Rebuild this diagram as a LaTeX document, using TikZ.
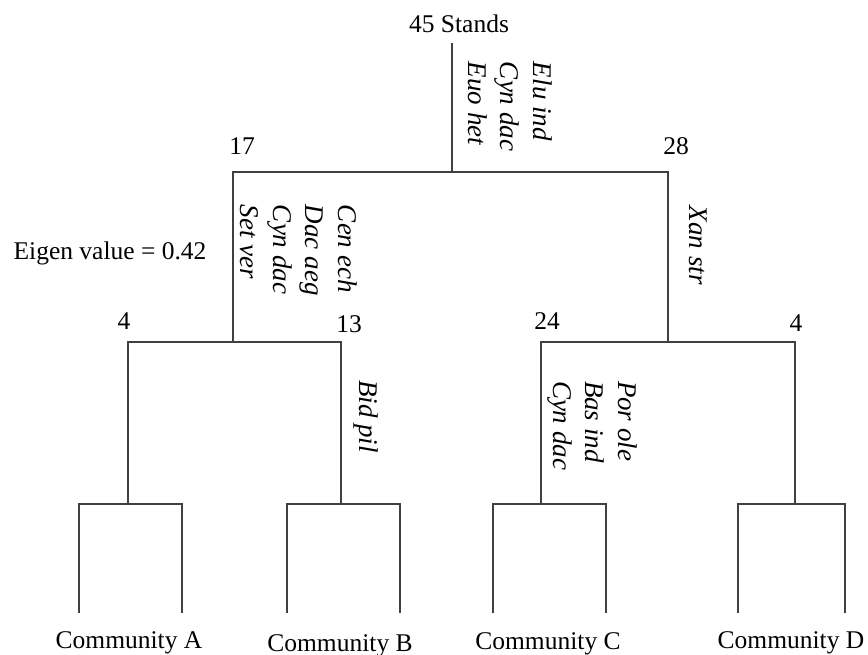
\documentclass[tikz,border=0pt]{standalone}
\usepackage{fontspec}
\setmainfont{Liberation Serif}
\begin{document}
\begin{tikzpicture}[x=1pt,y=-1pt,
  every node/.style={inner sep=0pt,outer sep=0pt,font=\fontsize{25.5}{32}\selectfont},
  branch/.style={line width=1.6pt,draw=black!75},
  sp/.style={rotate=-90,align=left,anchor=north west,font=\fontsize{27}{32.5}\selectfont\itshape},
  num/.style={anchor=base}]
\useasboundingbox (0,0) rectangle (868,655);
% junction coordinates
\coordinate (root) at (452,43);
\coordinate (r) at (452,172);
\coordinate (L) at (233,172);
\coordinate (R) at (668,172);
\coordinate (Lb) at (233,342);
\coordinate (Rb) at (668,342);
\coordinate (LL) at (128,342);
\coordinate (LR) at (341,342);
\coordinate (RL) at (541,342);
\coordinate (RR) at (795,342);
\coordinate (Am) at (128,504);
\coordinate (Bm) at (341,504);
\coordinate (Cm) at (541,504);
\coordinate (Dm) at (795,504);
\coordinate (A1) at (79,504);  \coordinate (A2) at (182,504);
\coordinate (B1) at (287,504); \coordinate (B2) at (400,504);
\coordinate (C1) at (493,504); \coordinate (C2) at (606,504);
\coordinate (D1) at (738,504); \coordinate (D2) at (845,504);
\coordinate (A1b) at (79,613);  \coordinate (A2b) at (182,613);
\coordinate (B1b) at (287,613); \coordinate (B2b) at (400,613);
\coordinate (C1b) at (493,613); \coordinate (C2b) at (606,613);
\coordinate (D1b) at (738,613); \coordinate (D2b) at (845,613);
% tree
\draw[branch] (root) -- (r);
\draw[branch] (Lb) -- (L) -- (R) -- (Rb);
\draw[branch] (Am) -- (LL) -- (LR) -- (Bm);
\draw[branch] (Cm) -- (RL) -- (RR) -- (Dm);
\draw[branch] (A1b) -- (A1) -- (A2) -- (A2b);
\draw[branch] (B1b) -- (B1) -- (B2) -- (B2b);
\draw[branch] (C1b) -- (C1) -- (C2) -- (C2b);
\draw[branch] (D1b) -- (D1) -- (D2) -- (D2b);
% labels
\node[num] (stands) at (459,33) {45 Stands};
\node[num] (n17) at (242,155) {17};
\node[num] (n28) at (676,155) {28};
\node[num] (n4a) at (124,330) {4};
\node[num] (n13) at (349,333) {13};
\node[num] (n24) at (547,330) {24};
\node[num] (n4b) at (796,331) {4};
\node[num] (eig) at (110,260) {Eigen value = 0.42};
% species
\node[sp] (s1) at (552,62) {Elu ind\\Cyn dac\\Euo het};
\node[sp] (s2) at (357,205) {Cen ech\\Dac aeg\\Cyn dac\\Set ver};
\node[sp] (s3) at (707,206) {Xan str};
\node[sp] (s4) at (378,380) {Bid pil};
\node[sp] (s5) at (637,381) {Por ole\\Bas ind\\Cyn dac};
% communities
\node[num] (cA) at (129,648) {Community A};
\node[num] (cB) at (340,651) {Community B};
\node[num] (cC) at (548,649) {Community C};
\node[num] (cD) at (791,648) {Community D};
\end{tikzpicture}
\end{document}
